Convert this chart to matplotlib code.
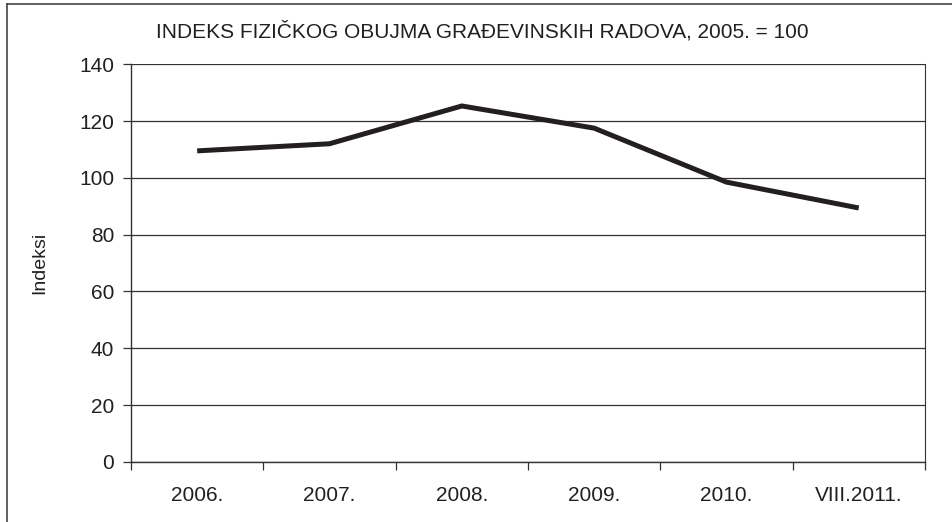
import matplotlib
matplotlib.use("Agg")
import matplotlib.pyplot as plt
from matplotlib.lines import Line2D
import numpy as np

# data
categories = ["2006.", "2007.", "2008.", "2009.", "2010.", "VIII.2011."]
index_values = [109.5, 112.0, 125.3, 117.5, 98.5, 89.4]
y_ticks = [0, 20, 40, 60, 80, 100, 120, 140]

plt.rcParams['font.family'] = ['Liberation Sans', 'DejaVu Sans']

fig = plt.figure(figsize=(9.53, 5.22), dpi=100)
ax = fig.add_axes([0.1375, 0.115, 0.833, 0.762])

x = np.arange(len(categories))
ax.plot(x, index_values, color="#231f20", linewidth=3.6, solid_capstyle="butt",
        solid_joinstyle="miter", zorder=3)

ax.set_xlim(-0.5, len(categories) - 0.5)
ax.set_ylim(0, 140)
ax.set_yticks(y_ticks)
ax.yaxis.grid(True, color="#333333", linewidth=0.9)
ax.set_axisbelow(True)

# category labels centered, tick marks between categories
ax.set_xticks(np.arange(-0.5, len(categories), 1.0))
ax.set_xticklabels([])
ax.set_xticks(x, minor=True)
ax.set_xticklabels(categories, minor=True)
ax.tick_params(axis="x", which="major", length=6, width=0.9, color="#333333")
ax.tick_params(axis="x", which="minor", length=0, pad=17, labelsize=15, labelcolor="#231f20")
ax.tick_params(axis="y", length=6, width=0.9, color="#333333", labelsize=15,
               labelcolor="#231f20", pad=6)

for side in ["left", "bottom"]:
    ax.spines[side].set_color("#333333")
    ax.spines[side].set_linewidth(1.0)
ax.spines["right"].set_color("#333333")
ax.spines["right"].set_linewidth(0.8)
ax.spines["top"].set_visible(False)

ax.set_ylabel("Indeksi", fontsize=14, color="#231f20", labelpad=22)

fig.text(0.506, 0.94, "INDEKS FIZIČKOG OBUJMA GRAĐEVINSKIH RADOVA, 2005. = 100",
         ha="center", va="center", fontsize=15, color="#231f20")

# outer frame (left and top edges visible in the reference)
fig.add_artist(Line2D([0.007, 0.007], [0, 0.993], transform=fig.transFigure,
                      color="#444444", linewidth=1.2))
fig.add_artist(Line2D([0.007, 1.0], [0.993, 0.993], transform=fig.transFigure,
                      color="#444444", linewidth=1.2))

fig.savefig("out.png", dpi=100)
